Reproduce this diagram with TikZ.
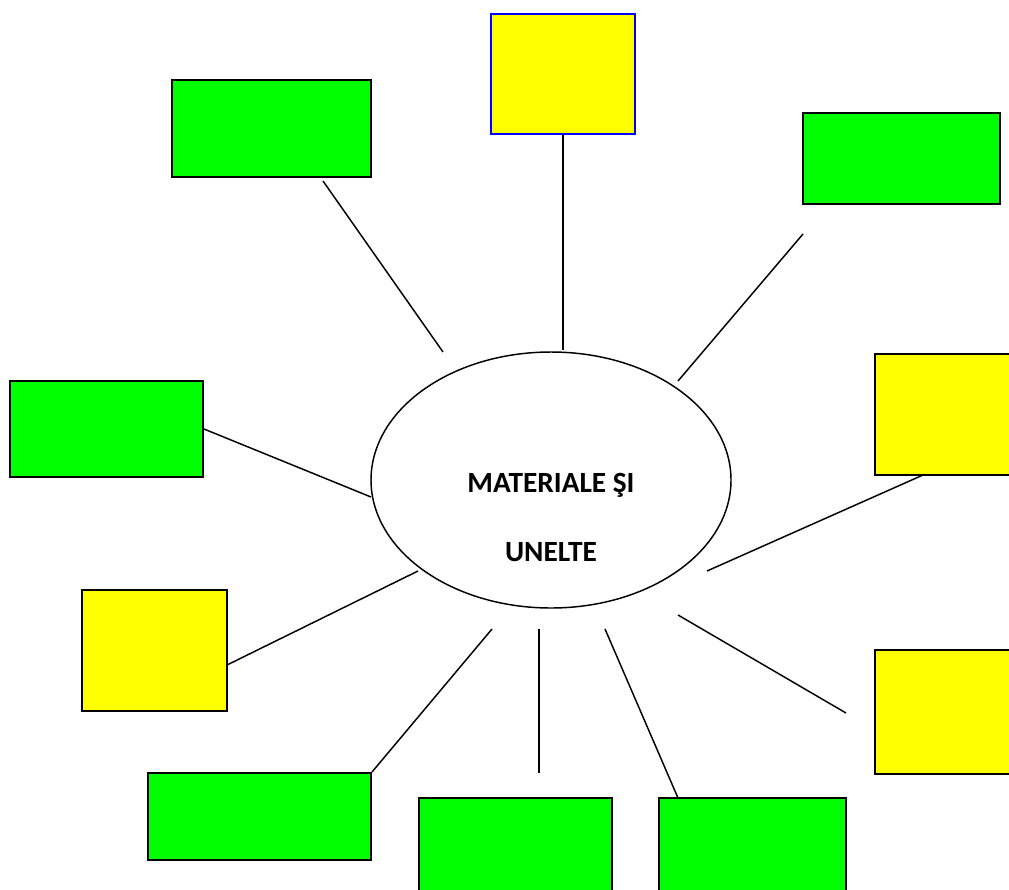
\documentclass[tikz,border=0pt]{standalone}
\usepackage{fontspec}
\setmainfont{Carlito}
\usetikzlibrary{shapes.geometric}
\definecolor{boxgreen}{RGB}{0,255,0}
\definecolor{boxyellow}{RGB}{255,255,0}
\definecolor{boxblue}{RGB}{0,0,255}
\begin{document}
\begin{tikzpicture}[x=0.75pt,y=-0.75pt,
  gbox/.style={draw=black,line width=1.5pt,fill=boxgreen,inner sep=0pt,rectangle},
  ybox/.style={draw=black,line width=1.5pt,fill=boxyellow,inner sep=0pt,rectangle},
  conn/.style={draw=black,line width=1.1pt},
  hubtext/.style={font=\fontsize{22pt}{26pt}\selectfont\bfseries},
  hub/.style={draw=black,line width=1.1pt,ellipse,fill=white,inner sep=0pt,
    minimum width=270pt,minimum height=192pt}]
\useasboundingbox (0,0) rectangle (1009,889);
\clip (0,0) rectangle (1009,889);
% boxes
\node[gbox,minimum width=149.25pt,minimum height=72.75pt] (tl) at (271.5,128.5) {};
\node[ybox,draw=boxblue,minimum width=108pt,minimum height=90pt] (top) at (563,74) {};
\node[gbox,minimum width=147.75pt,minimum height=68.25pt] (tr) at (901.5,158.5) {};
\node[gbox,minimum width=144.75pt,minimum height=72pt] (lft) at (106.5,429) {};
\node[ybox,minimum width=116.25pt,minimum height=90.75pt] (rgt) at (952.5,414.5) {};
\node[ybox,minimum width=108.75pt,minimum height=90.75pt] (llow) at (154.5,650.5) {};
\node[ybox,minimum width=116.25pt,minimum height=93pt] (rlow) at (952.5,712) {};
\node[gbox,minimum width=167.25pt,minimum height=65.25pt] (bl) at (259.5,816.5) {};
\node[gbox,minimum width=144.75pt,minimum height=91.5pt] (bm) at (515.5,859) {};
\node[gbox,minimum width=140.25pt,minimum height=91.5pt] (br) at (752.5,859) {};
% hub
\node[hub] (hubn) at (551,480) {};
\node[hubtext] (t1) at (551,485) {MATERIALE ŞI};
\node[hubtext] (t2) at (551,552) {UNELTE};
% free ends
\coordinate (a1) at (323,181); \coordinate (a2) at (443,352);
\coordinate (b2) at (563,350);
\coordinate (c1) at (803,234); \coordinate (c2) at (678,381);
\coordinate (d2) at (371,497);
\coordinate (e1) at (923,475); \coordinate (e2) at (707,571);
\coordinate (f1) at (227,665); \coordinate (f2) at (418,571);
\coordinate (g1) at (678,615); \coordinate (g2) at (846,713);
\coordinate (h2) at (492,629);
\coordinate (i1) at (539,629); \coordinate (i2) at (539,773);
\coordinate (j1) at (605,629); \coordinate (j2) at (678,798);
% connectors
\draw[conn] (a1) -- (a2);
\draw[conn] (top.south) -- (b2);
\draw[conn] (c1) -- (c2);
\draw[conn] (lft.east) -- (d2);
\draw[conn] (e1) -- (e2);
\draw[conn] (f1) -- (f2);
\draw[conn] (g1) -- (g2);
\draw[conn] (bl.north east) -- (h2);
\draw[conn] (i1) -- (i2);
\draw[conn] (j1) -- (j2);
\end{tikzpicture}
\end{document}
